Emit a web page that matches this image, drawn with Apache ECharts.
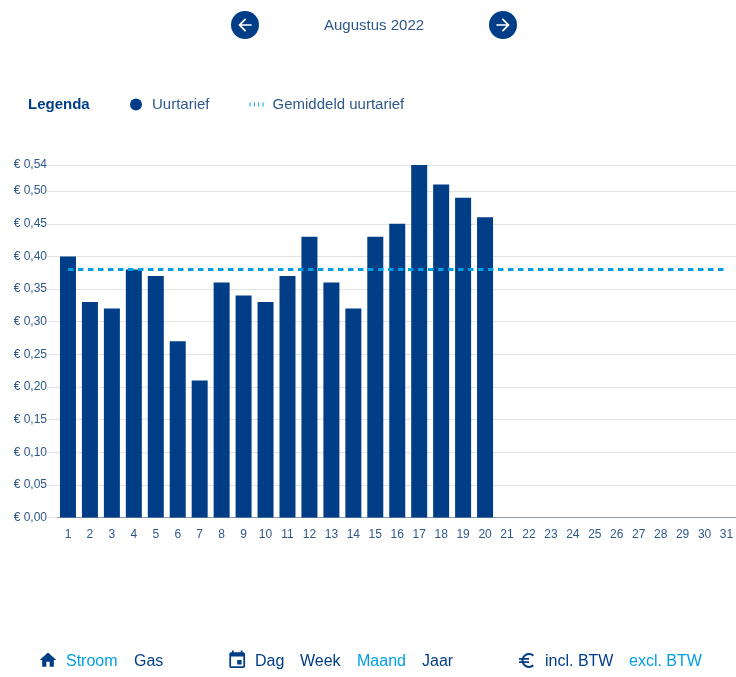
<!DOCTYPE html>
<html>
<head>
<meta charset="utf-8">
<style>
  html, body { margin: 0; padding: 0; background: #fff; }
  #chart { width: 736px; height: 677px; }
</style>
<script src="https://cdn.jsdelivr.net/npm/echarts@6/dist/echarts.min.js"></script>
</head>
<body>
<div id="chart"></div>
<script>
const days = ['1','2','3','4','5','6','7','8','9','10','11','12','13','14','15','16','17','18','19','20','21','22','23','24','25','26','27','28','29','30','31'];
const uurtarief = [0.40,0.33,0.32,0.38,0.37,0.27,0.21,0.36,0.34,0.33,0.37,0.43,0.36,0.32,0.43,0.45,0.54,0.51,0.49,0.46];
const gemiddeld = [0.38,0.38,0.38,0.38,0.38,0.38,0.38,0.38,0.38,0.38,0.38,0.38,0.38,0.38,0.38,0.38,0.38,0.38,0.38,0.38,0.38,0.38,0.38,0.38,0.38,0.38,0.38,0.38,0.38,0.38,0.38];
const navLabels = [
  ['Stroom', 66, true], ['Gas', 134, false],
  ['Dag', 255, false], ['Week', 300, false], ['Maand', 357, true], ['Jaar', 422, false],
  ['incl. BTW', 545, false], ['excl. BTW', 629, true]
];

const navy = '#003d87';
const sky = '#009fe3';
const textColor = '#2f5889';
const font = '"Liberation Sans", Arial, sans-serif';

// material icons, 24x24
const icons = {
  back: 'M20 11H7.83l5.59-5.59L12 4l-8 8 8 8 1.41-1.41L7.83 13H20v-2z',
  forward: 'M12 4l-1.41 1.41L16.17 11H4v2h12.17l-5.58 5.59L12 20l8-8z',
  home: 'M10 20v-6h4v6h5v-8h3L12 3 2 12h3v8z',
  event: 'M17 12h-5v5h5v-5zM16 1v2H8V1H6v2H5c-1.11 0-1.99.9-1.99 2L3 19c0 1.1.89 2 2 2h14c1.1 0 2-.9 2-2V5c0-1.1-.9-2-2-2h-1V1h-2zm3 18H5V8h14v11z',
  euro: 'M15 18.5c-2.51 0-4.68-1.42-5.76-3.5H15v-2H8.58c-.05-.33-.08-.66-.08-1s.03-.67.08-1H15V9H9.24C10.32 6.92 12.5 5.5 15 5.5c1.61 0 3.09.59 4.23 1.57L21 5.3C19.41 3.87 17.3 3 15 3c-3.92 0-7.24 2.51-8.48 6H3v2h3.06c-.04.33-.06.66-.06 1s.02.67.06 1H3v2h3.52c1.24 3.49 4.56 6 8.48 6 2.31 0 4.41-.87 6-2.3l-1.78-1.77c-1.13.98-2.6 1.57-4.22 1.57z'
};
Object.keys(icons).forEach(function (k) {
  echarts.graphic.registerShape('icon_' + k, echarts.graphic.extendPath(icons[k], {}));
});

function icon(name, x, y, size, color) {
  return {
    type: 'icon_' + name,
    x: x,
    y: y,
    scaleX: size / 24,
    scaleY: size / 24,
    style: { fill: color }
  };
}

function label(text, x, y, color, size, weight) {
  return {
    type: 'text',
    x: x,
    y: y,
    style: {
      text: text,
      fill: color,
      font: (weight || 'normal') + ' ' + size + 'px ' + font,
      verticalAlign: 'middle'
    }
  };
}

const graphics = [
  { type: 'circle', shape: { cx: 245, cy: 25, r: 14 }, style: { fill: navy } },
  icon('back', 235, 15, 20, '#fff'),
  { type: 'circle', shape: { cx: 503, cy: 25, r: 14 }, style: { fill: navy } },
  icon('forward', 493, 15, 20, '#fff'),
  label('Augustus 2022', 324, 26, textColor, 15),
  label('Legenda', 28, 105, navy, 15, 'bold'),
  icon('home', 38, 650, 20, navy),
  icon('event', 226.7, 649.5, 21, navy),
  icon('euro', 516.5, 650.5, 20, navy)
];
navLabels.forEach(function (n) {
  graphics.push(label(n[0], n[1], 662, n[2] ? sky : navy, 16));
});

const chart = echarts.init(document.getElementById('chart'), null, { renderer: 'canvas' });

chart.setOption({
  animation: false,
  backgroundColor: '#fff',
  textStyle: { fontFamily: font },
  grid: { left: 57, width: 680.5, top: 165, bottom: 159.5, containLabel: false, outerBoundsMode: 'none' },
  legend: {
    left: 125,
    top: 92,
    itemWidth: 14,
    itemHeight: 12,
    itemGap: 40,
    textStyle: { color: textColor, fontSize: 15, fontFamily: font, padding: [0, 0, 0, 4] },
    data: [
      { name: 'Uurtarief', icon: 'circle' },
      { name: 'Gemiddeld uurtarief', icon: 'path://M0 0h1v4H0zM4.3 0h1v4h-1zM8.7 0h1v4h-1zM13 0h1v4h-1z', itemStyle: { color: sky } }
    ]
  },
  xAxis: {
    type: 'category',
    data: days,
    axisLine: { lineStyle: { color: '#8c99aa', width: 1 } },
    axisTick: { show: false },
    axisLabel: { color: textColor, fontSize: 12, margin: 11, interval: 0 }
  },
  yAxis: {
    type: 'value',
    min: 0,
    max: 0.54,
    interval: 0.05,
    axisLine: { show: false },
    axisTick: { show: true, length: 10, lineStyle: { color: '#e3e3e3' } },
    splitLine: { lineStyle: { color: '#e3e3e3', width: 1 } },
    axisLabel: {
      color: textColor,
      fontSize: 12,
      margin: 10,
      showMinLabel: true,
      showMaxLabel: true,
      formatter: function (v) { return '€ ' + v.toFixed(2).replace('.', ','); }
    }
  },
  series: [
    {
      name: 'Uurtarief',
      type: 'bar',
      data: uurtarief,
      barWidth: 16,
      itemStyle: { color: navy }
    },
    {
      name: 'Gemiddeld uurtarief',
      type: 'line',
      data: gemiddeld,
      symbol: 'none',
      lineStyle: { color: sky, width: 3, type: [5.5, 4.5] },
      z: 5
    }
  ],
  graphic: graphics
});
</script>
</body>
</html>
